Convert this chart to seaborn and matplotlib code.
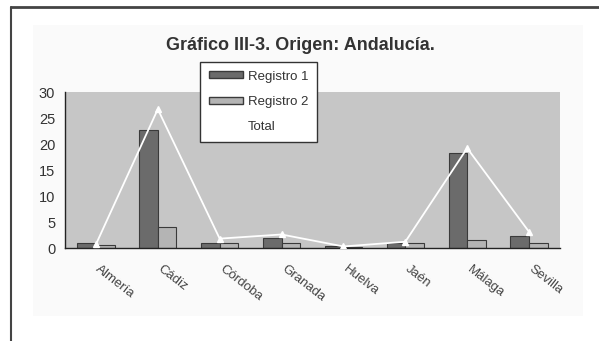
import matplotlib
matplotlib.use("Agg")
import matplotlib.pyplot as plt
import matplotlib.patches as mpatches
from matplotlib.lines import Line2D
import pandas as pd
import seaborn as sns

provincias = ["Almería", "Cádiz", "Córdoba", "Granada", "Huelva", "Jaén", "Málaga", "Sevilla"]
registro1 = [1.0, 22.6, 0.9, 2.0, 0.4, 0.9, 18.3, 2.3]
registro2 = [0.5, 4.1, 1.0, 1.0, 0.2, 1.0, 1.5, 0.9]
total = [0.7, 26.7, 1.8, 2.6, 0.3, 1.2, 19.2, 3.1]
yticks = [0, 5, 10, 15, 20, 25, 30]

sns.set_style("white")
plt.rcParams['font.family'] = ['Liberation Sans', 'DejaVu Sans']

df = pd.DataFrame({
    'provincia': provincias * 2,
    'valor': registro1 + registro2,
    'serie': ['Registro 1'] * len(provincias) + ['Registro 2'] * len(provincias),
})
df_total = pd.DataFrame({'provincia': provincias, 'total': total})

fig = plt.figure(figsize=(5.99, 3.41), dpi=100)
fig.patch.set_facecolor('white')
# light chart area and scanned frame
fig.add_artist(mpatches.Rectangle((33 / 599, 1 - 316 / 341), 550 / 599, 291 / 341,
                                  transform=fig.transFigure, facecolor='#fafafa',
                                  edgecolor='none', zorder=0))
fig.add_artist(Line2D([11 / 599, 1], [1 - 7 / 341, 1 - 7 / 341], transform=fig.transFigure,
                      color='#444444', lw=2))
fig.add_artist(Line2D([11 / 599, 11 / 599], [0, 1 - 7 / 341], transform=fig.transFigure,
                      color='#444444', lw=1.5))

ax = fig.add_axes([65 / 599, 1 - 248 / 341, 495 / 599, 156 / 341])
ax.set_facecolor('#c6c6c6')

sns.barplot(data=df, x='provincia', y='valor', hue='serie', order=provincias,
            palette={'Registro 1': '#6b6b6b', 'Registro 2': '#b4b4b4'},
            width=0.6, gap=0, edgecolor='#3a3a3a', linewidth=0.8,
            legend=False, ax=ax, zorder=2)
sns.pointplot(data=df_total, x='provincia', y='total', order=provincias,
              color='white', markers='^', markersize=4, linewidth=1.3,
              ax=ax, zorder=3)

ax.set_xlim(-0.5, len(provincias) - 0.5)
ax.set_ylim(0, 30)
ax.set_yticks(yticks)
ax.set_yticklabels([str(v) for v in yticks], fontsize=10.5, color='#333333')
# labels sit slightly right of the category centre, as in Excel
ax.set_xticks([i + 0.08 for i in range(len(provincias))])
ax.set_xticklabels(provincias, rotation=-38, ha='left', va='top', fontsize=9.5,
                   color='#444444', rotation_mode='anchor')
ax.set_xticks([i - 0.5 for i in range(len(provincias) + 1)], minor=True)
ax.tick_params(axis='x', which='major', length=0, pad=11)
ax.tick_params(axis='x', which='minor', length=4, direction='inout', color='#222222')
ax.tick_params(axis='y', length=4, direction='out', color='#222222', pad=3)
ax.set_xlabel('')
ax.set_ylabel('')
for side in ['top', 'right']:
    ax.spines[side].set_visible(False)
for side in ['left', 'bottom']:
    ax.spines[side].set_color('#222222')
    ax.spines[side].set_linewidth(1)

fig.text(300 / 599, 1 - 45 / 341, 'Gráfico III-3. Origen: Andalucía.', ha='center', va='center',
         fontsize=13, fontweight='bold', color='#333333')

handles = [
    mpatches.Patch(facecolor='#6b6b6b', edgecolor='#3a3a3a', label='Registro 1'),
    mpatches.Patch(facecolor='#b4b4b4', edgecolor='#3a3a3a', label='Registro 2'),
    Line2D([], [], color='white', lw=1.3, label='Total'),
]
leg = fig.legend(handles=handles, loc='upper left', bbox_to_anchor=(200 / 599, 1 - 62 / 341),
                 bbox_transform=fig.transFigure, fontsize=9.5, frameon=True, fancybox=False,
                 borderaxespad=0, handlelength=2.6, handleheight=0.45, labelspacing=1.0,
                 borderpad=0.65, handletextpad=0.4)
leg.get_frame().set_edgecolor('#333333')
leg.get_frame().set_linewidth(1)
leg.get_frame().set_facecolor('white')
leg.get_frame().set_alpha(1)
for t in leg.get_texts():
    t.set_color('#333333')

fig.savefig('out.png', dpi=100)
